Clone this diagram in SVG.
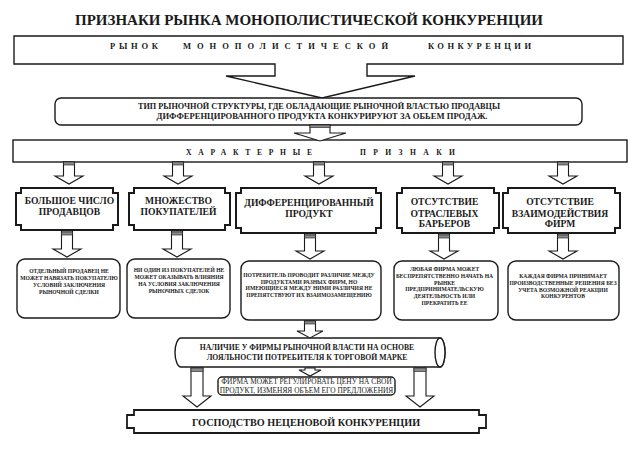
<svg xmlns="http://www.w3.org/2000/svg" width="636" height="455" viewBox="0 0 636 455">
<style>
text{font-family:"Liberation Serif","DejaVu Serif",serif;fill:#1a1a1a;text-anchor:middle;font-weight:bold}
.ln{fill:#fff;stroke:#1a1a1a;stroke-width:1.4}
.bold{fill:#fff;stroke:#1a1a1a;stroke-width:2}
.ar{fill:#fff;stroke:#1a1a1a;stroke-width:1.1}
.st{fill:#8a8a8a;stroke:#1a1a1a;stroke-width:0.6}
.t1{font-size:15.5px}
.sp{font-size:8.5px}
.df{font-size:8px}
.bx{font-size:9.6px}
.sm{font-size:5.6px}
.cy{font-size:7.7px}
.fm{font-size:7.4px;font-weight:normal}
.bt{font-size:10.2px}
</style>
<rect width="636" height="455" fill="#fff"/>
<text class="t1" x="309" y="25" textLength="468" lengthAdjust="spacingAndGlyphs">ПРИЗНАКИ РЫНКА МОНОПОЛИСТИЧЕСКОЙ КОНКУРЕНЦИИ</text>

<g id="market">
<path class="ln" d="M14,36 H623 V64 H367 V76 H415 L322,98 L226,76 H275 V64 H14 Z"/>
<text class="sp" x="110" y="49" style="text-anchor:start" textLength="48" lengthAdjust="spacing">РЫНОК</text>
<text class="sp" x="183" y="49" style="text-anchor:start" textLength="205" lengthAdjust="spacing">МОНОПОЛИСТИЧЕСКОЙ</text>
<text class="sp" x="428" y="49" style="text-anchor:start" textLength="103" lengthAdjust="spacing">КОНКУРЕНЦИИ</text>
</g>

<g id="definition">
<rect class="ln" x="55" y="98" width="527" height="27" rx="6"/>
<text class="df" x="319" y="108.5" textLength="362" lengthAdjust="spacingAndGlyphs">ТИП РЫНОЧНОЙ СТРУКТУРЫ, ГДЕ ОБЛАДАЮЩИЕ РЫНОЧНОЙ ВЛАСТЬЮ ПРОДАВЦЫ</text>
<text class="df" x="322" y="118.5" textLength="331" lengthAdjust="spacingAndGlyphs">ДИФФЕРЕНЦИРОВАННОГО ПРОДУКТА КОНКУРИРУЮТ ЗА ОБЬЕМ ПРОДАЖ.</text>
</g>

<g id="features">
<rect class="ln" x="13" y="140" width="614" height="22"/>
<text class="sp" x="186" y="155" style="text-anchor:start;font-size:7.6px" textLength="126" lengthAdjust="spacing">ХАРАКТЕРНЫЕ</text>
<text class="sp" x="360" y="155" style="text-anchor:start;font-size:7.6px" textLength="95" lengthAdjust="spacing">ПРИЗНАКИ</text>
</g>

<g id="sellers">
<path class="bold" d="M21,188 H113 V193 H118 V225 H113 V230 H21 V225 H16 V193 H21 Z"/>
<text class="bx" x="69.5" y="204">БОЛЬШОЕ ЧИСЛО</text>
<text class="bx" x="69.5" y="215">ПРОДАВЦОВ</text>
</g>
<g id="buyers">
<path class="bold" d="M134,188 H225 V193 H230 V225 H225 V230 H134 V225 H129 V193 H134 Z"/>
<text class="bx" x="178.5" y="204">МНОЖЕСТВО</text>
<text class="bx" x="178.5" y="215">ПОКУПАТЕЛЕЙ</text>
</g>
<g id="product">
<path class="bold" d="M241,188 H376 V193 H381 V228 H376 V233 H241 V228 H236 V193 H241 Z"/>
<text class="bx" x="309" y="205.5">ДИФФЕРЕНЦИРОВАННЫЙ</text>
<text class="bx" x="309" y="216.5">ПРОДУКТ</text>
</g>
<g id="barriers">
<path class="bold" d="M402,188 H494 V193 H499 V228 H494 V233 H402 V228 H397 V193 H402 Z"/>
<text class="bx" x="444.5" y="205">ОТСУТСТВИЕ</text>
<text class="bx" x="444.5" y="216.5">ОТРАСЛЕВЫХ</text>
<text class="bx" x="444.5" y="227">БАРЬЕРОВ</text>
</g>
<g id="interaction">
<path class="bold" d="M508,188 H615 V193 H620 V228 H615 V233 H508 V228 H503 V193 H508 Z"/>
<text class="bx" x="560" y="205">ОТСУТСТВИЕ</text>
<text class="bx" x="560" y="216.5">ВЗАИМОДЕЙСТВИЯ</text>
<text class="bx" x="560" y="227">ФИРМ</text>
</g>

<g id="d1">
<rect class="ln" x="17" y="259" width="103" height="59" rx="8"/>
<text class="sm" x="69" y="273">ОТДЕЛЬНЫЙ ПРОДАВЕЦ НЕ</text>
<text class="sm" x="69" y="280">МОЖЕТ НАВЯЗАТЬ ПОКУПАТЕЛЮ</text>
<text class="sm" x="69" y="287">УСЛОВИЙ ЗАКЛЮЧЕНИЯ</text>
<text class="sm" x="69" y="294">РЫНОЧНОЙ СДЕЛКИ</text>
</g>
<g id="d2">
<rect class="ln" x="127" y="259" width="103" height="59" rx="8"/>
<text class="sm" x="179" y="272">НИ ОДИН ИЗ ПОКУПАТЕЛЕЙ НЕ</text>
<text class="sm" x="179" y="279">МОЖЕТ ОКАЗЫВАТЬ ВЛИЯНИЯ</text>
<text class="sm" x="179" y="286">НА УСЛОВИЯ ЗАКЛЮЧЕНИЯ</text>
<text class="sm" x="179" y="293">РЫНОЧНЫХ СДЕЛОК</text>
</g>
<g id="d3">
<rect class="ln" x="241" y="261" width="140" height="59" rx="8"/>
<text class="sm" x="309" y="277">ПОТРЕБИТЕЛЬ ПРОВОДИТ РАЗЛИЧИЕ МЕЖДУ</text>
<text class="sm" x="309" y="283.7">ПРОДУКТАМИ РАЗНЫХ ФИРМ, НО</text>
<text class="sm" x="309" y="290.4">ИМЕЮЩИЕСЯ МЕЖДУ НИМИ РАЗЛИЧИЯ НЕ</text>
<text class="sm" x="309" y="297">ПРЕПЯТСТВУЮТ ИХ ВЗАИМОЗАМЕЩЕНИЮ</text>
</g>
<g id="d4">
<rect class="ln" x="394" y="261" width="104" height="59" rx="8"/>
<text class="sm" x="444.5" y="271">ЛЮБАЯ ФИРМА МОЖЕТ</text>
<text class="sm" x="444.5" y="278">БЕСПРЕПЯТСТВЕННО НАЧАТЬ НА</text>
<text class="sm" x="444.5" y="284.5">РЫНКЕ</text>
<text class="sm" x="444.5" y="291">ПРЕДПРИНИМАТЕЛЬСКУЮ</text>
<text class="sm" x="444.5" y="298">ДЕЯТЕЛЬНОСТЬ ИЛИ</text>
<text class="sm" x="444.5" y="305">ПРЕКРАТИТЬ ЕЕ</text>
</g>
<g id="d5">
<rect class="ln" x="508" y="261" width="111" height="59" rx="8"/>
<text class="sm" x="563" y="278">КАЖДАЯ ФИРМА ПРИНИМАЕТ</text>
<text class="sm" x="563" y="285">ПРОИЗВОДСТВЕННЫЕ РЕШЕНИЯ БЕЗ</text>
<text class="sm" x="563" y="291.5">УЧЕТА ВОЗМОЖНОЙ РЕАКЦИИ</text>
<text class="sm" x="563" y="298">КОНКУРЕНТОВ</text>
</g>

<g id="power">
<path class="ln" d="M181,338 H440 A5,14.5 0 0 1 440,367 H181 A6,14.5 0 0 1 181,338 Z"/>
<ellipse class="ln" cx="440" cy="352.5" rx="5" ry="14.5"/>
<text class="cy" x="307" y="349.5">НАЛИЧИЕ У ФИРМЫ РЫНОЧНОЙ ВЛАСТИ НА ОСНОВЕ</text>
<text class="cy" x="307" y="359.5">ЛОЯЛЬНОСТИ ПОТРЕБИТЕЛЯ К ТОРГОВОЙ МАРКЕ</text>
</g>

<g id="price">
<rect class="ln" x="218" y="377" width="177" height="18" rx="4"/>
<text class="fm" x="306.5" y="384">ФИРМА МОЖЕТ РЕГУЛИРОВАТЬ ЦЕНУ НА СВОЙ</text>
<text class="fm" x="306.5" y="393">ПРОДУКТ, ИЗМЕНЯЯ ОБЪЕМ ЕГО ПРЕДЛОЖЕНИЯ</text>
</g>

<g id="nonprice">
<path class="bold" style="stroke-width:1.8" d="M134,410 H479 V415 H486 V428 H479 V433 H134 V428 H127 V415 H134 Z"/>
<text class="bt" x="306" y="425.5">ГОСПОДСТВО НЕЦЕНОВОЙ КОНКУРЕНЦИИ</text>
</g>

<g id="connectors">
<path class="ar" d="M310,125 V133 H294 L320,141 L346,133 H330 V125 Z"/>
<rect class="st" x="310" y="125" width="20" height="2.5"/>

<path class="ar" d="M63.5,162 V176 H55 L69,184 L83,176 H74.5 V162 Z"/>
<rect class="st" x="63.5" y="162" width="11" height="3"/>
<path class="ar" d="M172.5,162 V176 H164 L178,184 L192,176 H183.5 V162 Z"/>
<rect class="st" x="172.5" y="162" width="11" height="3"/>
<path class="ar" d="M313.5,162 V176 H305 L319,184 L333,176 H324.5 V162 Z"/>
<rect class="st" x="313.5" y="162" width="11" height="3"/>
<path class="ar" d="M442.5,162 V176 H434 L448,184 L462,176 H453.5 V162 Z"/>
<rect class="st" x="442.5" y="162" width="11" height="3"/>
<path class="ar" d="M557.5,162 V176 H549 L563,184 L577,176 H568.5 V162 Z"/>
<rect class="st" x="557.5" y="162" width="11" height="3"/>

<path class="ar" d="M61.5,231 V249 H53 L67,257 L81,249 H72.5 V231 Z"/>
<rect class="st" x="61.5" y="232" width="11" height="3"/>
<path class="ar" d="M171.5,231 V249 H163 L177,257 L191,249 H182.5 V231 Z"/>
<rect class="st" x="171.5" y="232" width="11" height="3"/>
<path class="ar" d="M304.5,234 V251 H296 L310,259 L324,251 H315.5 V234 Z"/>
<rect class="st" x="304.5" y="235" width="11" height="3"/>
<path class="ar" d="M438.5,234 V251 H430 L444,259 L458,251 H449.5 V234 Z"/>
<rect class="st" x="438.5" y="235" width="11" height="3"/>
<path class="ar" d="M557.5,234 V251 H549 L563,259 L577,251 H568.5 V234 Z"/>
<rect class="st" x="557.5" y="235" width="11" height="3"/>

<path class="ar" d="M304.5,321 V331 H297 L310,338 L323,331 H315.5 V321 Z"/>
<rect class="st" x="304.5" y="321" width="11" height="3"/>

<path class="ar" d="M305,368 V370 H299 L310,376 L321,370 H315 V368 Z"/>

<path class="ar" d="M191,368 V396 H183 L197,407 L211,396 H203 V368 Z"/>
<rect class="st" x="191" y="368" width="12" height="3.5"/>
<path class="ar" d="M414,368 V396 H406 L420,407 L434,396 H426 V368 Z"/>
<rect class="st" x="414" y="368" width="12" height="3.5"/>
</g>
</svg>
